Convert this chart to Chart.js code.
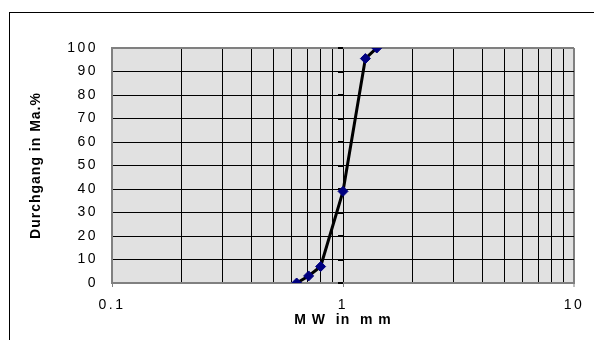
<!DOCTYPE html>
<html>
<head>
<meta charset="utf-8">
<script src="https://cdn.jsdelivr.net/npm/chart.js@4/dist/chart.umd.min.js"></script>
<style>
  html, body { margin: 0; padding: 0; background: #ffffff; }
  #wrap { position: relative; width: 594px; height: 340px; }
</style>
</head>
<body>
<div id="wrap"><canvas id="c" width="594" height="340"></canvas></div>
<script>
// Sieve analysis: mesh width (mm) and cumulative passing (mass %)
const sieveSizes = [0.63, 0.71, 0.8, 1.0, 1.25, 1.4];
const passingPercent = [0, 3, 7, 39, 95.5, 100];

// Logarithmic grid positions and the decades that carry a label
const xGridValues = [0.1, 0.2, 0.3, 0.4, 0.5, 0.6, 0.7, 0.8, 0.9,
                     1, 2, 3, 4, 5, 6, 7, 8, 9, 10];
const xLabelValues = [0.1, 1, 10];
const yTickValues = [0, 10, 20, 30, 40, 50, 60, 70, 80, 90, 100];

const xTitle = 'M W  in  m m';
const yTitle = 'Durchgang in Ma.%';

const FONT = 'Liberation Sans, Arial, sans-serif';
const EDGE = '#808080';

// Plot background, outer frame and text spacing
const decorPlugin = {
  id: 'decor',
  beforeDraw(chart) {
    const { ctx, chartArea: a } = chart;
    ctx.save();
    ctx.fillStyle = '#e1e1e1';
    ctx.fillRect(a.left, a.top, a.right - a.left, a.bottom - a.top);
    ctx.fillStyle = '#000000';
    ctx.fillRect(9, 12, 1, chart.height - 12);
    ctx.fillRect(9, 12, chart.width - 9, 1);
    ctx.restore();
    ctx.letterSpacing = '1px';
  },
  beforeDatasetsDraw(chart) {
    // value axis crossing at 1 mm: short tick marks
    const { ctx, scales } = chart;
    const x = Math.round(scales.x.getPixelForValue(1));
    ctx.save();
    ctx.fillStyle = '#000000';
    yTickValues.forEach(v => {
      const y = Math.round(scales.y.getPixelForValue(v));
      ctx.fillRect(x - 5, y - 1, 5, 2);
    });
    ctx.restore();
  },
  afterDatasetsDraw(chart) {
    chart.ctx.letterSpacing = '2.5px';
  },
  afterDraw(chart) {
    chart.ctx.letterSpacing = '0px';
  }
};

new Chart(document.getElementById('c'), {
  type: 'scatter',
  data: {
    datasets: [{
      data: sieveSizes.map((s, i) => ({ x: s, y: passingPercent[i] })),
      showLine: true,
      borderColor: '#000000',
      borderWidth: 3,
      pointStyle: 'rectRot',
      pointRadius: 5,
      pointHoverRadius: 5,
      pointBackgroundColor: '#000080',
      pointBorderColor: '#000080',
      pointBorderWidth: 1
    }]
  },
  options: {
    responsive: false,
    devicePixelRatio: 1,
    animation: false,
    events: [],
    layout: { padding: { top: 48, right: 20, left: 0, bottom: 0 } },
    plugins: {
      legend: { display: false },
      tooltip: { enabled: false }
    },
    scales: {
      x: {
        type: 'logarithmic',
        min: 0.1,
        max: 10,
        afterBuildTicks(scale) {
          scale.ticks = xGridValues.map(v => ({ value: v, major: xLabelValues.includes(v) }));
        },
        afterFit(scale) { scale.height = 57; },
        grid: {
          color: c => (c.tick && c.tick.value === 10) ? EDGE : '#000000',
          lineWidth: c => (c.tick && c.tick.value === 10) ? 2 : 1,
          drawTicks: true,
          tickLength: 4,
          tickColor: c => (c.tick && xLabelValues.includes(c.tick.value)) ? EDGE : 'rgba(0,0,0,0)',
          tickWidth: 1
        },
        border: { color: EDGE, width: 2 },
        ticks: {
          z: 1,
          autoSkip: false,
          maxRotation: 0,
          padding: 10,
          color: '#000000',
          font: { family: FONT, size: 14 },
          callback: v => xLabelValues.includes(v) ? String(v) : ''
        },
        title: {
          display: true,
          text: xTitle,
          color: '#000000',
          font: { family: FONT, size: 14, weight: 'bold' },
          padding: { top: 0, bottom: 11.6 }
        }
      },
      y: {
        type: 'linear',
        min: 0,
        max: 100,
        afterBuildTicks(scale) {
          scale.ticks = yTickValues.map(v => ({ value: v }));
        },
        afterFit(scale) { scale.width = 112; },
        grid: {
          color: c => (c.tick && c.tick.value === 100) ? EDGE : '#000000',
          lineWidth: c => (c.tick && c.tick.value === 100) ? 2 : 1,
          drawTicks: false
        },
        border: { color: EDGE, width: 2 },
        ticks: {
          z: 1,
          padding: 14,
          color: '#000000',
          font: { family: FONT, size: 14 }
        },
        title: {
          display: true,
          text: yTitle,
          color: '#000000',
          font: { family: FONT, size: 14, weight: 'bold' },
          padding: { top: 27.6, bottom: 0 }
        }
      }
    }
  },
  plugins: [decorPlugin]
});
</script>
</body>
</html>
